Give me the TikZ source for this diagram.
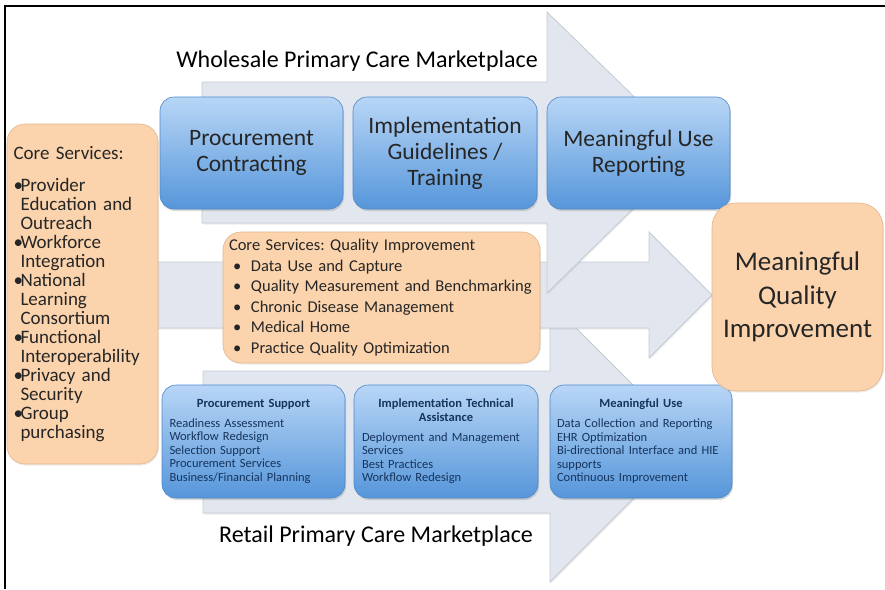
\documentclass[tikz,border=0pt]{standalone}
\usepackage{fontspec}
\setmainfont{Carlito}
\frenchspacing
\usetikzlibrary{shadows,positioning}

\definecolor{arrowfill}{RGB}{226,231,239}
\definecolor{arrowedge}{RGB}{196,202,212}
\definecolor{peach}{RGB}{251,211,172}
\definecolor{peachedge}{RGB}{228,182,140}
\definecolor{boxtop}{RGB}{184,214,246}
\definecolor{boxbot}{RGB}{86,150,218}
\definecolor{boxedge}{RGB}{78,136,200}
\definecolor{navy}{RGB}{22,52,92}

% bullet with hanging lines (use \newline inside)
\newcommand{\hbul}{\par\hangindent=7pt\hangafter=1\noindent\makebox[7pt][l]{\textbullet}}
\newcommand{\qbul}{\makebox[22pt][l]{\hspace{4pt}\textbullet}}

\tikzset{
  bigarrow/.style  = {fill=arrowfill, draw=arrowedge, line width=0.8pt,
                      drop shadow={opacity=0.15, shadow xshift=1pt, shadow yshift=-1.5pt}},
  bluebox/.style   = {rounded corners=14pt, top color=boxtop, bottom color=boxbot,
                      draw=boxedge, line width=0.6pt, inner sep=0pt,
                      drop shadow={opacity=0.3, shadow xshift=1pt, shadow yshift=-2pt}},
  topbox/.style    = {bluebox, minimum width=183pt, minimum height=112pt, align=center,
                      text=black!85, font=\fontsize{23.5}{26}\selectfont},
  listbox/.style   = {bluebox, minimum width=183pt, minimum height=113pt,
                      text width=168pt, align=left, text=navy,
                      font=\fontsize{12.5}{13.6}\selectfont},
  peachbox/.style  = {rounded corners=18pt, fill=peach, draw=peachedge, line width=0.6pt,
                      inner sep=0pt, text=black!85,
                      drop shadow={opacity=0.15, shadow xshift=1pt, shadow yshift=-1.5pt}},
  market/.style    = {font=\fontsize{24}{28}\selectfont, text=black},
}

\begin{document}
\begin{tikzpicture}[x=1pt, y=-1pt]
  \useasboundingbox (0,0) rectangle (885,589);
  \draw[line width=2pt] (5,589) -- (5,6) -- (885,6);

  % the three big arrows, lower one first
  \path[bigarrow] (203,371) -- (550,371) -- (550,302) -- (690,442) -- (550,582)
        -- (550,513) -- (203,513) -- cycle;
  \path[bigarrow] (150,262) -- (649,262) -- (649,232) -- (712,295) -- (649,358)
        -- (649,328) -- (150,328) -- cycle;
  \path[bigarrow] (202,82) -- (547,82) -- (547,12) -- (691,152) -- (547,293)
        -- (547,223) -- (202,223) -- cycle;

  \node[market] (whole) at (357,61) {Wholesale Primary Care Marketplace};
  \node[market] (retail) at (376,536) {Retail Primary Care Marketplace};

  % wholesale row
  \node[topbox] (pc)  at (251.5,153) {Procurement\\Contracting};
  \node[topbox, minimum width=184pt] (igt) at (445,153) {Implementation\\Guidelines /\\Training};
  \node[topbox] (mur) at (638.5,153) {Meaningful Use\\Reporting};

  % retail row
  \node[listbox] (ps) at (253.5,441.5) {{\centering\bfseries Procurement Support\par}
    \vspace{6pt}Readiness Assessment\\Workflow Redesign\\Selection Support\\
    Procurement Services\\Business/Financial Planning};
  \node[listbox, minimum width=184pt] (ita) at (446,441.5) {{\centering\bfseries
    Implementation Technical\\Assistance\par}
    \vspace{6pt}Deployment and Management\\Services\\Best Practices\\Workflow Redesign};
  \node[listbox, minimum width=182pt] (mu) at (641,441.5) {{\centering\bfseries Meaningful Use\par}
    \vspace{6pt}Data Collection and Reporting\\EHR Optimization\\
    Bi-directional Interface and HIE\\supports\\Continuous Improvement};

  % core services
  \node[peachbox, minimum width=151pt, minimum height=340pt, text width=138pt,
        align=left, font=\fontsize{19}{19}\selectfont] (core) at (82.5,294)
    {Core Services:\par\vspace{13pt}
     \hbul Provider\newline Education and\newline Outreach
     \hbul Workforce\newline Integration
     \hbul National\newline Learning\newline Consortium
     \hbul Functional\newline Interoperability
     \hbul Privacy and\newline Security
     \hbul Group\newline purchasing\par};
  \node[peachbox, minimum width=317pt, minimum height=131pt, text width=305pt,
        align=left, font=\fontsize{16.5}{20.5}\selectfont] (qi) at (381.5,297.5)
    {Core Services: Quality Improvement\\
     \qbul Data Use and Capture\\
     \qbul Quality Measurement and Benchmarking\\
     \qbul Chronic Disease Management\\
     \qbul Medical Home\\
     \qbul Practice Quality Optimization};
  \node[peachbox, rounded corners=24pt, minimum width=171pt, minimum height=188pt,
        align=center, font=\fontsize{27}{33.5}\selectfont] (mqi) at (797.5,297)
    {Meaningful\\Quality\\Improvement};
\end{tikzpicture}
\end{document}
